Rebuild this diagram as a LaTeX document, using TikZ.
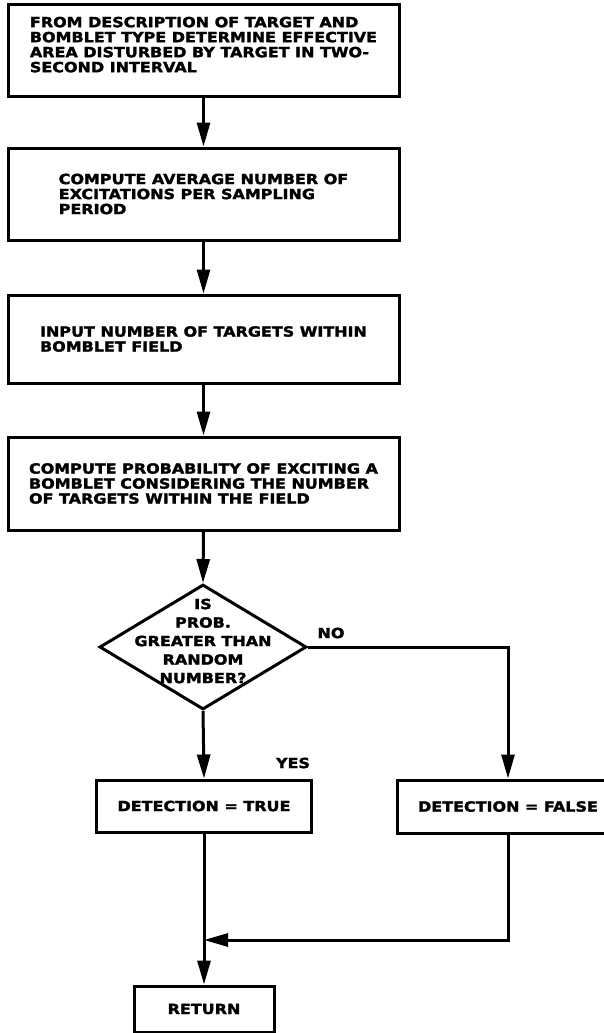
\documentclass[tikz,border=0pt]{standalone}
\usepackage{fontspec}
\newfontfamily\chartfont{DejaVu Sans}[FakeStretch=1.14,FakeBold=2]
\usetikzlibrary{shapes.geometric,arrows.meta}

\begin{document}
\begin{tikzpicture}[x=1pt,y=-1pt,
    proc/.style={draw, line width=3pt, inner sep=0pt, align=left,
        font=\chartfont\bfseries\fontsize{14}{15}\selectfont},
    decision/.style={draw, diamond, line width=3pt, inner sep=0pt,
        minimum width=207pt, minimum height=125pt},
    lbl/.style={inner sep=0pt, font=\chartfont\bfseries\fontsize{14}{18.5}\selectfont},
    flow/.style={line width=3pt, -{Triangle[length=24pt,width=13pt]}}]
    \useasboundingbox (0,0) rectangle (604,1033);

    % the four process boxes down the left
    \node[proc, minimum width=391pt, minimum height=91pt] (b1) at (203.5,50.5)
        {FROM DESCRIPTION OF TARGET AND\\BOMBLET TYPE DETERMINE EFFECTIVE\\AREA DISTURBED BY TARGET IN TWO-\\SECOND INTERVAL\\[-3pt]};
    \node[proc, minimum width=391pt, minimum height=92pt] (b2) at (203.5,194)
        {COMPUTE AVERAGE NUMBER OF\\EXCITATIONS PER SAMPLING\\PERIOD};
    \node[proc, minimum width=391pt, minimum height=88pt] (b3) at (203.5,339)
        {INPUT NUMBER OF TARGETS WITHIN\\BOMBLET FIELD};
    \node[proc, minimum width=391pt, minimum height=93pt] (b4) at (203.5,483.5)
        {COMPUTE PROBABILITY OF EXCITING A\\BOMBLET CONSIDERING THE NUMBER\\OF TARGETS WITHIN THE FIELD};

    % test
    \node[decision, label={[lbl, align=center, yshift=6pt]center:{IS\\PROB.\\GREATER THAN\\RANDOM\\NUMBER?}}]
        (dec) at (203,647) {};
    \node[lbl] (no) at (331,633) {NO};
    \node[lbl] (yes) at (293,763) {YES};

    % both outcomes
    \node[proc, minimum width=215pt, minimum height=52pt] (bt) at (204,806) {DETECTION = TRUE};
    \node[proc, minimum width=222pt, minimum height=53pt] (bf) at (508,806.5) {DETECTION = FALSE};
    \node[proc, minimum width=140pt, minimum height=46pt] (ret) at (204,1009) {RETURN};
    \coordinate (join) at (204,940);

    \draw[flow] (b1.south) -- (b2.north);
    \draw[flow] (b2.south) -- (b3.north);
    \draw[flow] (b3.south) -- (b4.north);
    \draw[flow] (b4.south) -- (dec.north);
    \draw[flow] (dec.south) -- (bt.north);
    \draw[flow] (dec.east) -| (bf.north);
    \draw[flow] (bt.south) -- (ret.north);
    \draw[flow] (bf.south) |- (join);
\end{tikzpicture}
\end{document}
